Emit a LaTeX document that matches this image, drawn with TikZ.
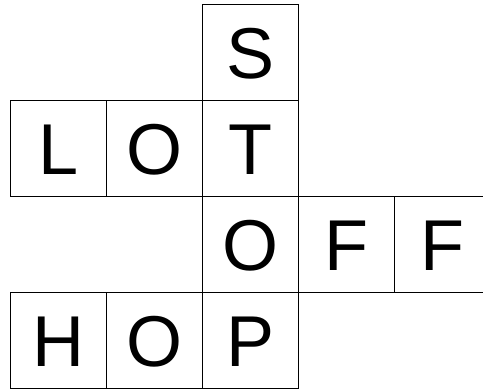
\documentclass[tikz,border=0pt]{standalone}
\usepackage{fontspec}
\setmainfont{Liberation Sans}
\begin{document}
\begin{tikzpicture}[x=1pt,y=-1pt,
  cell/.style={draw=black, line width=1.4pt, rectangle, minimum width=96pt, minimum height=96pt,
    inner sep=0pt, font=\fontsize{72}{72}\selectfont, text height=51.6pt, text depth=0pt}]
\useasboundingbox (0,0) rectangle (483,389);
\clip (0,0) rectangle (483,389);
\def\xo{10.4}\def\yo{4.6}\def\cs{96}
\node[cell] (s)  at ({\xo+2.5*\cs},{\yo+0.5*\cs}) {S};
\node[cell] (l)  at ({\xo+0.5*\cs},{\yo+1.5*\cs}) {L};
\node[cell] (o1) at ({\xo+1.5*\cs},{\yo+1.5*\cs}) {O};
\node[cell] (t)  at ({\xo+2.5*\cs},{\yo+1.5*\cs}) {T};
\node[cell] (o2) at ({\xo+2.5*\cs},{\yo+2.5*\cs}) {O};
\node[cell] (f1) at ({\xo+3.5*\cs},{\yo+2.5*\cs}) {F};
\node[cell] (f2) at ({\xo+4.5*\cs},{\yo+2.5*\cs}) {F};
\node[cell] (h)  at ({\xo+0.5*\cs},{\yo+3.5*\cs}) {H};
\node[cell] (o3) at ({\xo+1.5*\cs},{\yo+3.5*\cs}) {O};
\node[cell] (p)  at ({\xo+2.5*\cs},{\yo+3.5*\cs}) {P};
\end{tikzpicture}
\end{document}
